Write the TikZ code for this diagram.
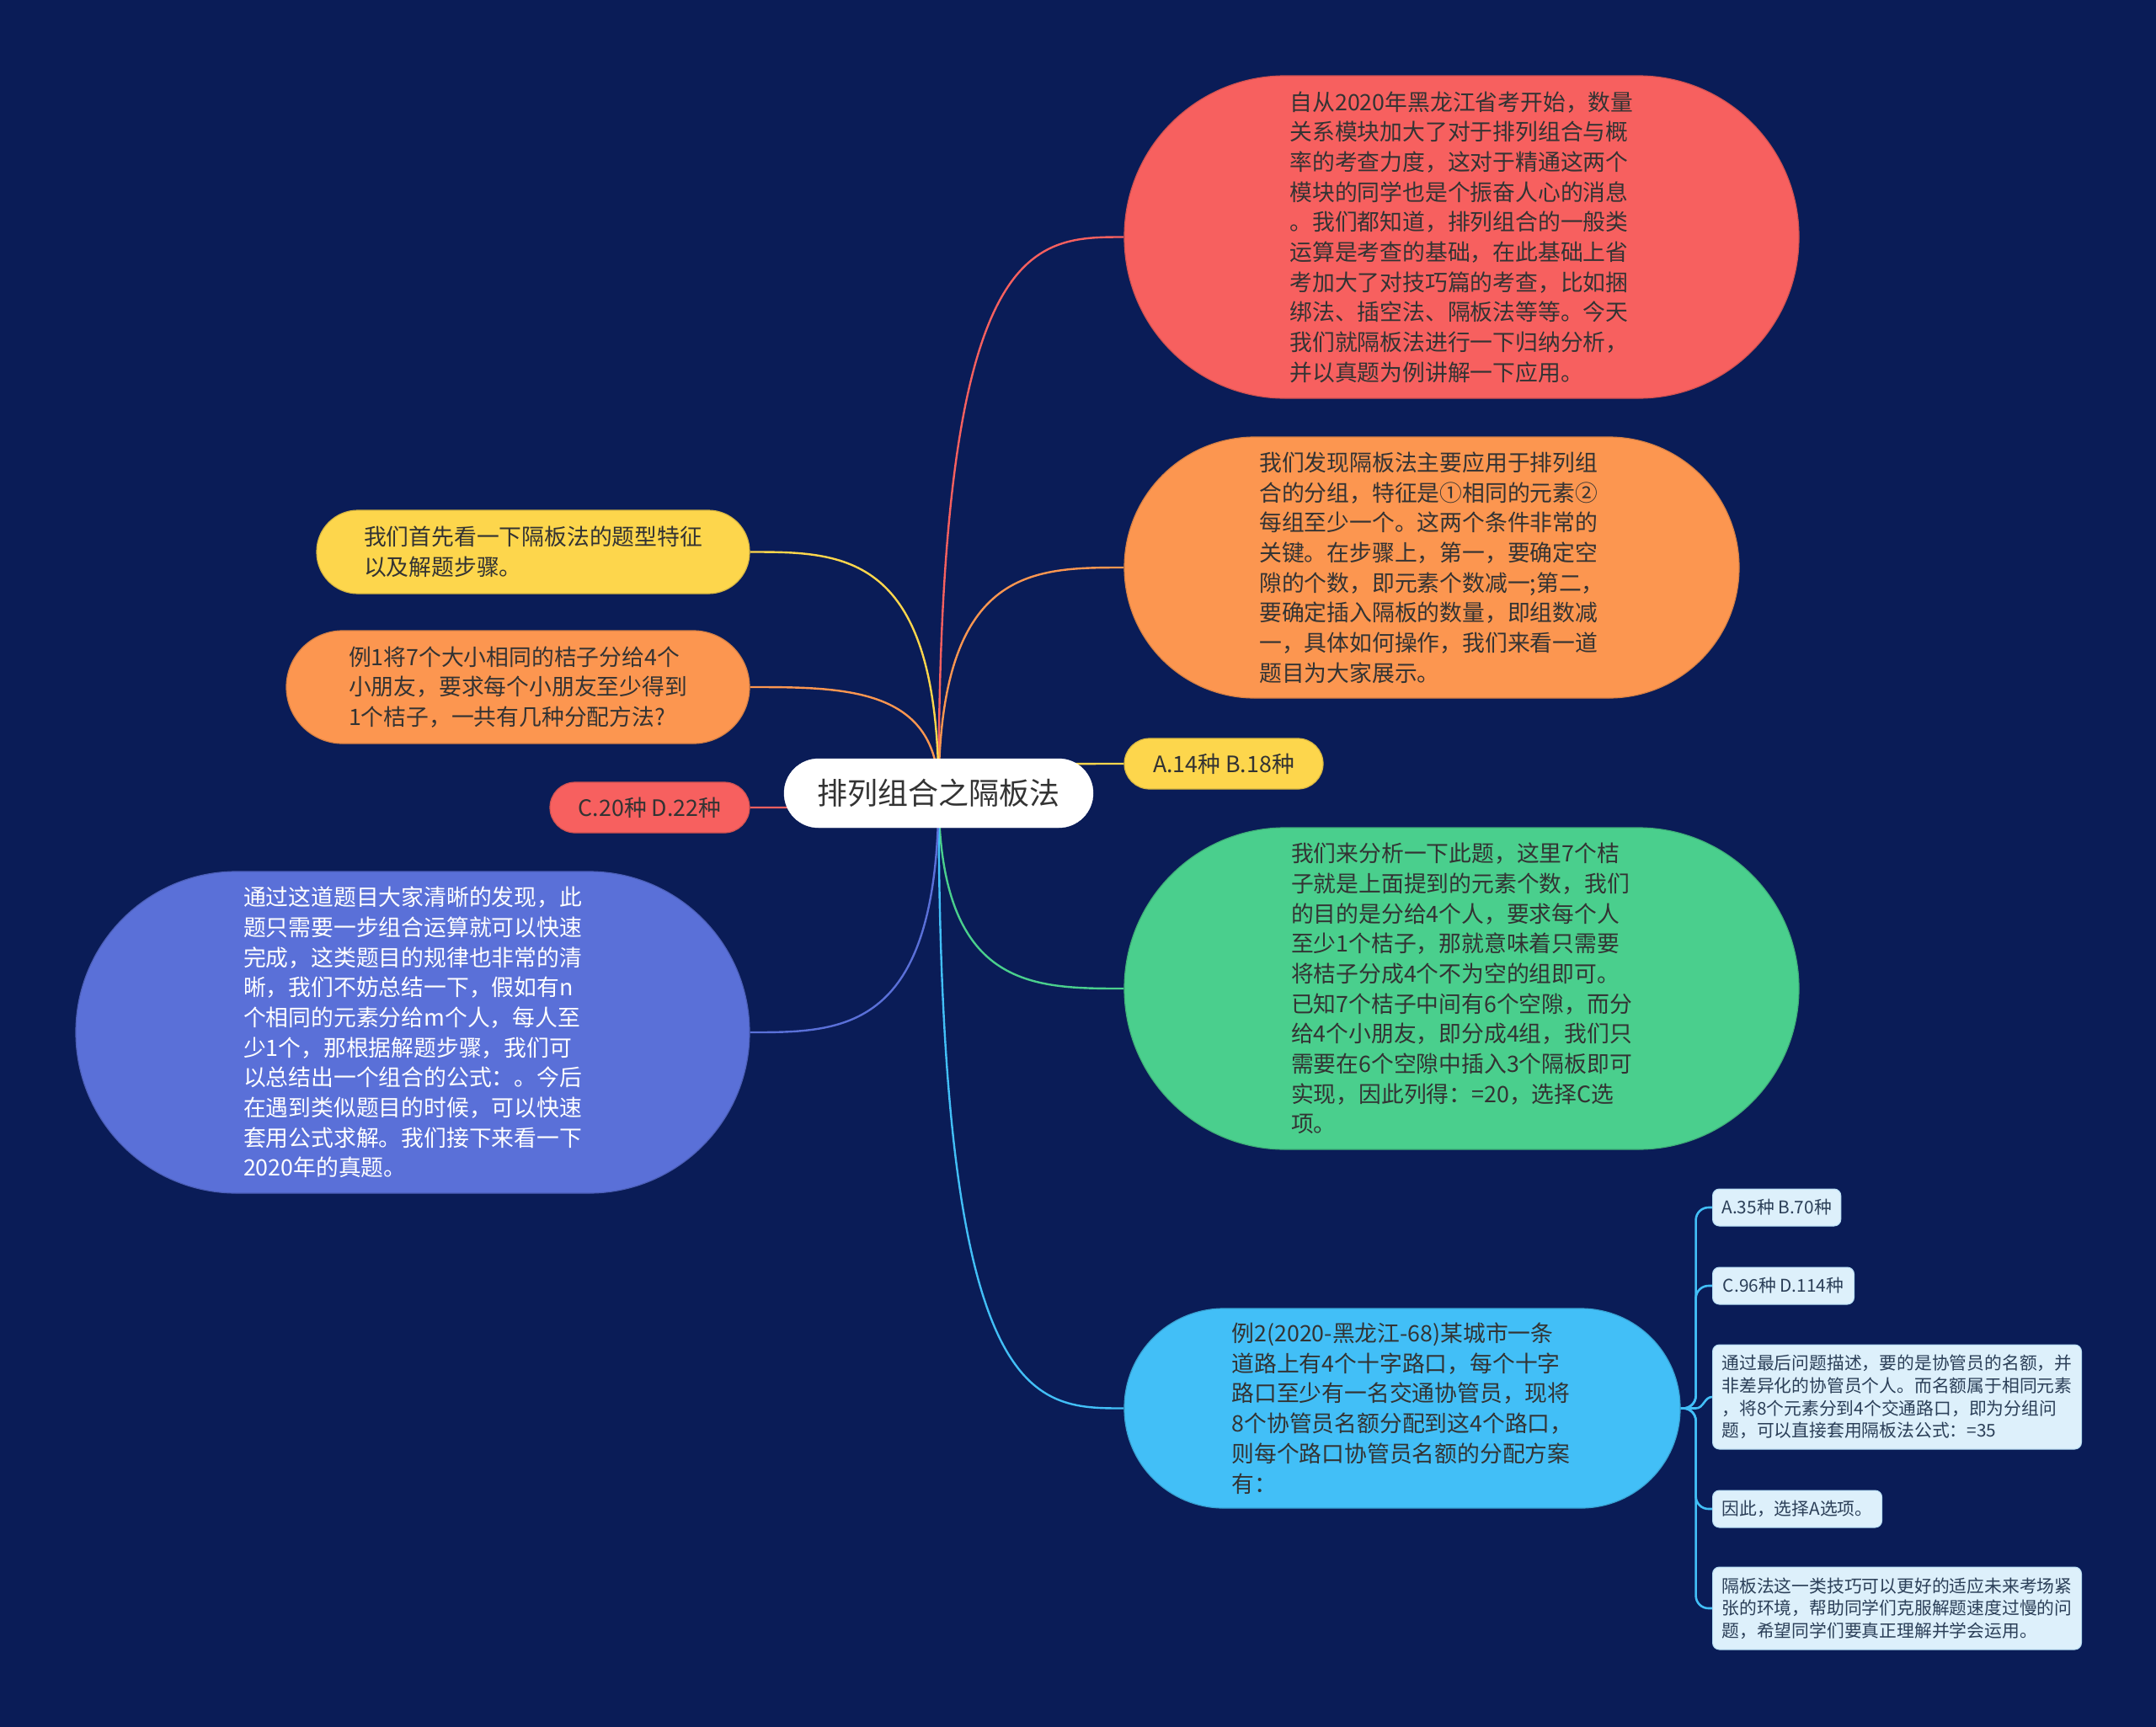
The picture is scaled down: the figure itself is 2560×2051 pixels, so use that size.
\documentclass[tikz,border=0pt]{standalone}
\usepackage{fontspec}
\setmainfont{Noto Sans CJK SC}
\usetikzlibrary{calc}
\pgfdeclarelayer{back}
\pgfdeclarelayer{bg}
\pgfsetlayers{back,bg,main}
\definecolor{bgc}{HTML}{0A1C57}
\definecolor{cRed}{HTML}{F7605F}
\definecolor{cOrange}{HTML}{FC9650}
\definecolor{cYellow}{HTML}{FDD64C}
\definecolor{cGreen}{HTML}{4ACF8D}
\definecolor{cBlue}{HTML}{42BFF7}
\definecolor{cPurple}{HTML}{5A70D8}
\definecolor{cfill}{HTML}{DDF0FB}
\definecolor{cborder}{HTML}{B5DCF2}
\definecolor{txt}{HTML}{333333}
\definecolor{ctxt}{HTML}{2B3F58}
\tikzset{
  conn/.style={line width=2.4pt},
  cconn/.style={line width=2.6pt, draw=cBlue},
  big/.style={align=left, inner sep=0pt, text=txt, line width=1.2pt,
    font=\fontsize{26.8}{35.7}\selectfont},
  rootn/.style={fill=white, draw=white, text=txt, inner sep=0pt,
    minimum width=367pt, minimum height=82pt, rounded corners=41pt,
    font=\fontsize{36}{40}\selectfont},
  small/.style={align=left, inner xsep=11pt, inner ysep=0pt, text=ctxt,
    fill=cfill, draw=cborder, line width=1pt, rounded corners=8pt,
    font=\fontsize{20.8}{26.7}\selectfont, anchor=west},
}
\begin{document}
\begin{tikzpicture}[x=1pt,y=-1pt]
\begin{pgfonlayer}{back}
\fill[bgc] (0,0) rectangle (2560,2051);
\end{pgfonlayer}
\useasboundingbox (0,0) rectangle (2560,2051);

% root
\node[rootn] (root) at (1114.5,942) {排列组合之隔板法};

% right side
\node[big, fill=cRed, draw=cRed!85!black, minimum width=801pt, minimum height=383pt, rounded corners=191pt] (n1) at (1735.5,281.5)
{自从2020年黑龙江省考开始，数量\\关系模块加大了对于排列组合与概\\率的考查力度，这对于精通这两个\\模块的同学也是个振奋人心的消息\\。我们都知道，排列组合的一般类\\运算是考查的基础，在此基础上省\\考加大了对技巧篇的考查，比如捆\\绑法、插空法、隔板法等等。今天\\我们就隔板法进行一下归纳分析，\\并以真题为例讲解一下应用。};

\node[big, fill=cOrange, draw=cOrange!85!black, minimum width=730pt, minimum height=310pt, rounded corners=155pt] (n2) at (1700,674)
{我们发现隔板法主要应用于排列组\\合的分组，特征是①相同的元素②\\每组至少一个。这两个条件非常的\\关键。在步骤上，第一，要确定空\\隙的个数，即元素个数减一;第二，\\要确定插入隔板的数量，即组数减\\一，具体如何操作，我们来看一道\\题目为大家展示。};

\node[big, fill=cYellow, draw=cYellow!85!black, minimum width=236pt, minimum height=60pt, rounded corners=30pt] (n3) at (1453,907)
{A.14种 B.18种};

\node[big, fill=cGreen, draw=cGreen!85!black, minimum width=801pt, minimum height=382pt, rounded corners=191pt] (n4) at (1735.5,1174)
{我们来分析一下此题，这里7个桔\\子就是上面提到的元素个数，我们\\的目的是分给4个人，要求每个人\\至少1个桔子，那就意味着只需要\\将桔子分成4个不为空的组即可。\\已知7个桔子中间有6个空隙，而分\\给4个小朋友，即分成4组，我们只\\需要在6个空隙中插入3个隔板即可\\实现，因此列得：=20，选择C选\\项。};

\node[big, fill=cBlue, draw=cBlue!85!black, minimum width=660pt, minimum height=237pt, rounded corners=118pt] (n5) at (1665,1672.5)
{例2(2020-黑龙江-68)某城市一条\\道路上有4个十字路口，每个十字\\路口至少有一名交通协管员，现将\\8个协管员名额分配到这4个路口，\\则每个路口协管员名额的分配方案\\有：};

% children of n5
\node[small, minimum width=152pt, minimum height=44pt] (c1) at (2033,1434) {A.35种 B.70种};
\node[small, minimum width=168pt, minimum height=44pt] (c2) at (2033,1527) {C.96种 D.114种};
\node[small, minimum width=437pt, minimum height=124pt] (c3) at (2033,1659)
{通过最后问题描述，要的是协管员的名额，并\\非差异化的协管员个人。而名额属于相同元素\\，将8个元素分到4个交通路口，即为分组问\\题，可以直接套用隔板法公式：=35};
\node[small, minimum width=201pt, minimum height=44pt] (c4) at (2033,1792) {因此，选择A选项。};
\node[small, minimum width=437pt, minimum height=98pt] (c5) at (2033,1910)
{隔板法这一类技巧可以更好的适应未来考场紧\\张的环境，帮助同学们克服解题速度过慢的问\\题，希望同学们要真正理解并学会运用。};

% left side
\node[big, fill=cYellow, draw=cYellow!85!black, minimum width=514pt, minimum height=99pt, rounded corners=49pt] (l1) at (633,655.5)
{我们首先看一下隔板法的题型特征\\以及解题步骤。};
\node[big, fill=cOrange, draw=cOrange!85!black, minimum width=550pt, minimum height=134pt, rounded corners=67pt] (l2) at (615,816)
{例1将7个大小相同的桔子分给4个\\小朋友，要求每个小朋友至少得到\\1个桔子，一共有几种分配方法?};
\node[big, fill=cRed, draw=cRed!85!black, minimum width=237pt, minimum height=60pt, rounded corners=30pt] (l3) at (771.5,959)
{C.20种 D.22种};
\node[big, fill=cPurple, draw=cPurple!85!black, text=white, minimum width=800pt, minimum height=382pt, rounded corners=191pt] (l4) at (490,1226)
{通过这道题目大家清晰的发现，此\\题只需要一步组合运算就可以快速\\完成，这类题目的规律也非常的清\\晰，我们不妨总结一下，假如有n\\个相同的元素分给m个人，每人至\\少1个，那根据解题步骤，我们可\\以总结出一个组合的公式：。今后\\在遇到类似题目的时候，可以快速\\套用公式求解。我们接下来看一下\\2020年的真题。};

\coordinate (hub) at ($(n5.east)+(18,0)$);

\begin{pgfonlayer}{bg}
\draw[conn, cRed] (root.center) .. controls (root.center|-n1.west) and ($(root.center|-n1.west)!0.5!(n1.west)$) .. (n1.west);
\draw[conn, cOrange] (root.center) .. controls (root.center|-n2.west) and ($(root.center|-n2.west)!0.5!(n2.west)$) .. (n2.west);
\draw[conn, cYellow] (root.center) .. controls (root.center|-n3.west) and ($(root.center|-n3.west)!0.5!(n3.west)$) .. (n3.west);
\draw[conn, cGreen] (root.center) .. controls (root.center|-n4.west) and ($(root.center|-n4.west)!0.5!(n4.west)$) .. (n4.west);
\draw[conn, cBlue] (root.center) .. controls (root.center|-n5.west) and ($(root.center|-n5.west)!0.5!(n5.west)$) .. (n5.west);
\draw[conn, cYellow] (root.center) .. controls (root.center|-l1.east) and ($(root.center|-l1.east)!0.5!(l1.east)$) .. (l1.east);
\draw[conn, cOrange] (root.center) .. controls (root.center|-l2.east) and ($(root.center|-l2.east)!0.5!(l2.east)$) .. (l2.east);
\draw[conn, cRed] (root.center) .. controls (root.center|-l3.east) and ($(root.center|-l3.east)!0.5!(l3.east)$) .. (l3.east);
\draw[conn, cPurple] (root.center) .. controls (root.center|-l4.east) and ($(root.center|-l4.east)!0.5!(l4.east)$) .. (l4.east);
\draw[cconn, rounded corners=15pt] (n5.east) -- (hub) |- (c1.west);
\draw[cconn, rounded corners=15pt] (n5.east) -- (hub) |- (c2.west);
\draw[cconn] (n5.east) -- (hub) to[out=0,in=180] (c3.west);
\draw[cconn, rounded corners=15pt] (n5.east) -- (hub) |- (c4.west);
\draw[cconn, rounded corners=15pt] (n5.east) -- (hub) |- (c5.west);
\end{pgfonlayer}
\end{tikzpicture}
\end{document}
